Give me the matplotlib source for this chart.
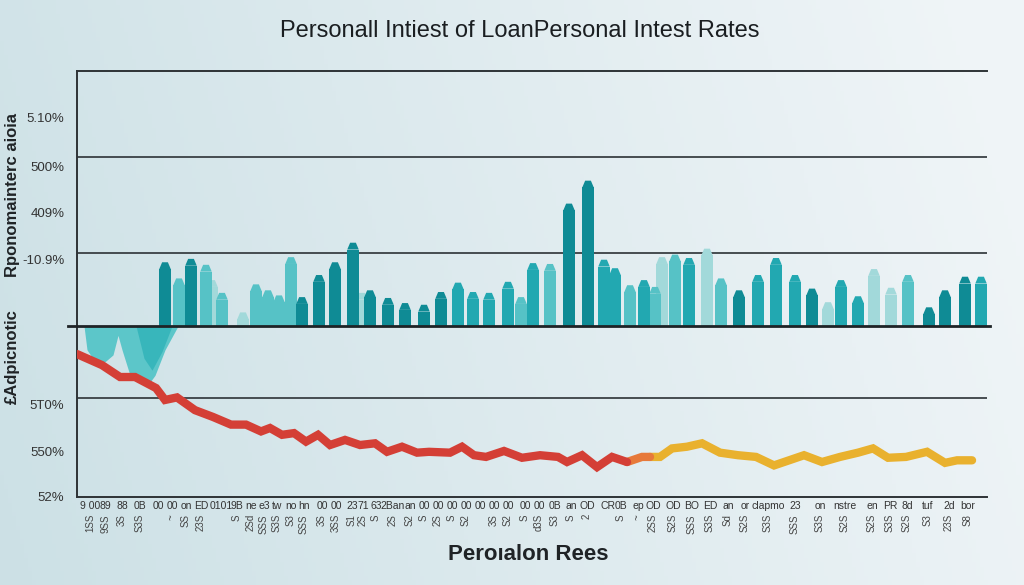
import numpy as np
import matplotlib
matplotlib.use("Agg")
import matplotlib.pyplot as plt
from matplotlib.transforms import blended_transform_factory

plt.rcParams["font.family"] = ["Liberation Sans", "DejaVu Sans"]

# bar centres (x) and heights (rate units above the zero line), shade class
bar_x = [165, 179, 191, 206, 212, 222, 243, 256, 268, 279, 291, 302, 319, 335,
         353, 362, 370, 388, 405, 424, 441, 458, 473, 489, 508, 521, 533, 550,
         569, 588, 604, 615, 630, 644, 655, 662, 675, 689, 707, 721, 739, 758,
         776, 795, 812, 828, 841, 858, 874, 891, 908, 929, 945, 965, 981]
bar_h = [0.75, 0.56, 0.79, 0.72, 0.54, 0.39, 0.16, 0.49, 0.42, 0.36, 0.81, 0.34,
         0.60, 0.75, 0.98, 0.39, 0.42, 0.33, 0.27, 0.25, 0.40, 0.51, 0.40, 0.39,
         0.52, 0.34, 0.74, 0.73, 1.44, 1.71, 0.78, 0.68, 0.48, 0.54, 0.46, 0.81,
         0.84, 0.80, 0.91, 0.56, 0.42, 0.60, 0.80, 0.60, 0.44, 0.28, 0.54, 0.35,
         0.67, 0.45, 0.60, 0.22, 0.42, 0.58, 0.58]
bar_shade = ["dark", "light", "dark", "light", "vlight", "light", "vlight", "light",
             "light", "light", "light", "dark", "dark", "dark", "dark", "vlight",
             "dark", "dark", "dark", "dark", "dark", "mid", "mid", "mid", "mid",
             "light", "mid", "light", "dark", "dark", "mid", "mid", "light", "mid",
             "light", "vlight", "light", "mid", "vlight", "light", "dark", "mid",
             "mid", "mid", "dark", "vlight", "mid", "mid", "vlight", "vlight",
             "light", "dark", "dark", "dark", "mid"]

# dip below zero at the start
dip_x = [84, 87, 95, 105, 113, 118, 122, 130, 140, 150, 155, 165, 178]
dip_y = [0.0, -0.28, -0.42, -0.42, -0.34, -0.11, -0.28, -0.58, -0.64, -0.66,
         -0.58, -0.28, 0.0]
dip2_x = [136, 144, 152, 162, 172]
dip2_y = [0.0, -0.38, -0.52, -0.30, 0.0]

# personal loan rate line: red part, short orange bridge, yellow part
red_x = [77, 102, 120, 135, 156, 165, 177, 195, 213, 231, 246, 261, 270, 282,
         294, 306, 318, 330, 345, 360, 375, 387, 402, 417, 429, 450, 462, 474,
         486, 504, 522, 540, 558, 567, 582, 597, 612, 627]
red_y = [-0.33, -0.46, -0.60, -0.60, -0.73, -0.87, -0.84, -0.99, -1.07, -1.16,
         -1.16, -1.24, -1.20, -1.28, -1.26, -1.36, -1.28, -1.40, -1.34, -1.40,
         -1.38, -1.48, -1.42, -1.49, -1.48, -1.49, -1.42, -1.52, -1.54, -1.47,
         -1.55, -1.52, -1.54, -1.60, -1.52, -1.66, -1.54, -1.60]
org_x = [627, 642, 650]
org_y = [-1.60, -1.54, -1.54]
yel_x = [650, 660, 672, 687, 702, 720, 738, 756, 774, 789, 804, 822, 840,
         858, 873, 888, 906, 927, 945, 957, 972]
yel_y = [-1.54, -1.54, -1.44, -1.42, -1.38, -1.49, -1.52, -1.54, -1.64,
         -1.58, -1.52, -1.60, -1.54, -1.49, -1.44, -1.55, -1.54, -1.48, -1.61,
         -1.58, -1.58]

ytick_pos = [2.45, 1.88, 1.34, 0.78, -0.92, -1.48, -2.0]
ytick_lab = ["5.10%", "500%", "409%", "-10.9%", "5T0%", "550%", "52%"]
grid_y = [1.99, 0.86, -0.85]

xtick_pos = [90, 105, 122, 140, 158, 172, 186, 201, 221, 237, 251, 264, 277,
             291, 304, 322, 336, 352, 363, 376, 393, 410, 424, 438, 452, 466,
             480, 494, 508, 525, 539, 555, 571, 587, 608, 621, 638, 653, 673,
             692, 710, 728, 745, 768, 795, 820, 845, 872, 890, 907, 928, 949, 968]
xtick_lab = ["9 00", "89", "88", "0B", "00", "00", "on", "ED", "0101", "9B", "ne",
             "e3", "tw", "no", "hn", "00", "00", "23", "71", "63", "2Ban", "an",
             "00", "00", "00", "00", "00", "00", "00", "00", "00", "0B", "an", "OD",
             "CR", "0B", "ep", "OD", "OD", "BO", "ED", "an", "or", "clapmo", "23",
             "on", "nstre", "en", "PR", "8d", "tuf", "2d", "bor"]
xsub_lab = ["1SS", "9SS", "3S", "S3S", "", "~", "SS", "23S", "", "S", "2Sd", "SSS",
            "S3S", "S3", "SSS", "3S", "3SS", "S1", "2S", "S", "2S", "S2", "S",
            "2S", "S", "S2", "", "3S", "S2", "S", "d3S", "S3", "S", "2", "",
            "S", "~", "2SS", "S2S", "SSS", "S3S", "Sd", "S2S", "S3S", "SSS", "S3S",
            "S2S", "S2S", "S3S", "S2S", "S3", "23S", "S8"]

shade_col = {"dark": "#0f8b95", "mid": "#22a8b1", "light": "#56c2c6",
             "vlight": "#a2d9da"}
shade_order = ["vlight", "light", "mid", "dark"]


def main() -> None:
    fig = plt.figure(figsize=(10.24, 5.85), dpi=100)

    bg = fig.add_axes([0, 0, 1, 1])
    gx = np.linspace(0, 1, 256)
    gy = np.linspace(0, 1, 128)
    gxx, gyy = np.meshgrid(gx, gy)
    left = np.array([0.80, 0.88, 0.90])
    right = np.array([0.94, 0.96, 0.97])
    t = np.clip(gxx * 0.9 + gyy * 0.15, 0, 1)[..., None]
    img = left * (1 - t) + right * t
    bg.imshow(img, aspect="auto", extent=[0, 1, 0, 1], origin="lower")
    bg.axis("off")

    ax = fig.add_axes([0.0752, 0.1504, 0.8887, 0.7282])
    ax.patch.set_alpha(0)
    ax.set_xlim(77, 987)
    ax.set_ylim(-2.0118, 3.0)

    w = 11.5
    cap = 0.08
    for shade in shade_order:
        for x, h, s in zip(bar_x, bar_h, bar_shade):
            if s != shade:
                continue
            c = shade_col[s]
            ax.bar(x, h - cap, width=w, color=c, zorder=2)
            ax.fill([x - w / 2, x - w / 4, x + w / 4, x + w / 2],
                    [h - cap, h, h, h - cap], color=c, zorder=2, lw=0)

    ax.fill_between(dip_x, dip_y, 0, color="#5cc6c9", lw=0, zorder=2)
    ax.fill_between(dip2_x, dip2_y, 0, color="#2fb2b8", lw=0, alpha=0.8, zorder=2)

    line_kw = dict(lw=6, solid_joinstyle="miter", solid_capstyle="round")
    ax.plot(yel_x, yel_y, color="#e9b12e", zorder=4, **line_kw)
    ax.plot(org_x, org_y, color="#e7793a", zorder=4, **line_kw)
    ax.plot(red_x, red_y, color="#d43f36", zorder=4, **line_kw)

    for gyv in grid_y:
        ax.axhline(gyv, color="#3a4044", lw=1.3, zorder=1)
    ax.plot([68, 990], [0, 0], color="#1e2326", lw=2.0, clip_on=False, zorder=5)

    ax.spines["right"].set_visible(False)
    for side in ["left", "top", "bottom"]:
        ax.spines[side].set_color("#2e3336")
        ax.spines[side].set_linewidth(1.4)

    ax.set_yticks(ytick_pos, ytick_lab)
    ax.tick_params(axis="y", length=0, pad=9, labelsize=9.5, labelcolor="#333")
    ax.set_xticks(xtick_pos, xtick_lab)
    ax.tick_params(axis="x", length=0, pad=3, labelsize=7.5, labelcolor="#333")

    tr = blended_transform_factory(ax.transData, ax.transAxes)
    for x, s in zip(xtick_pos, xsub_lab):
        if s:
            ax.text(x, -0.04, s, transform=tr, rotation=90, ha="center", va="top",
                    fontsize=7, color="#444")

    fig.text(0.508, 0.947, "Personall Intiest of LoanPersonal Intest Rates",
             ha="center", va="center", fontsize=17, color="#1a1e21")
    fig.text(0.516, 0.052, "Peroıalon Rees", ha="center", va="center",
             fontsize=16, fontweight="bold", color="#1f2326")
    fig.text(0.012, 0.667, "Rponomainterc aioia", rotation=90, ha="center",
             va="center", fontsize=12, fontweight="bold", color="#1f2326")
    fig.text(0.012, 0.39, "£Adpicnotic", rotation=90, ha="center",
             va="center", fontsize=12, fontweight="bold", color="#1f2326")

    fig.savefig("out.png", dpi=100)
    plt.close(fig)


if __name__ == "__main__":
    main()
